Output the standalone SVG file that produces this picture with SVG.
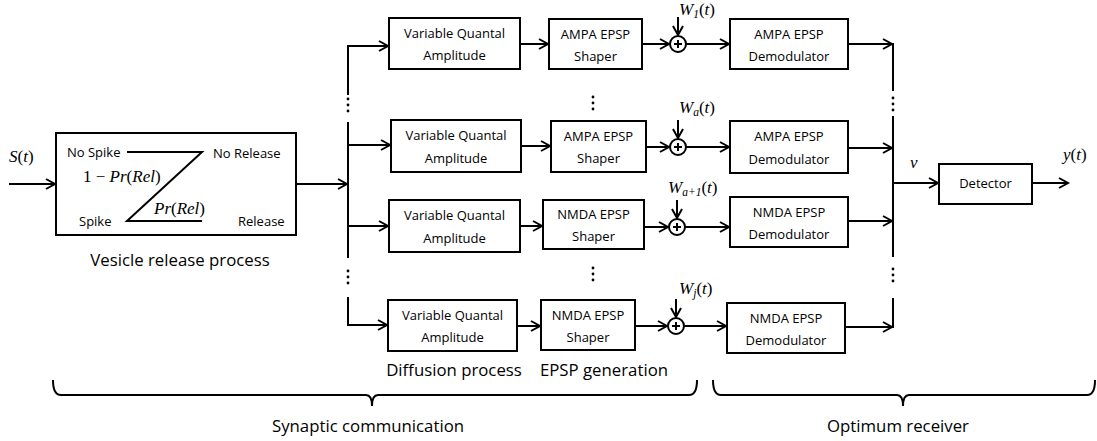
<svg xmlns="http://www.w3.org/2000/svg" width="1097" height="441" viewBox="0 0 1097 441">
  <style>
    .box { fill: #fff; stroke: #000; stroke-width: 2; }
    .ln { fill: none; stroke: #000; stroke-width: 2; }
    .arr { fill: none; stroke: #000; stroke-width: 2; marker-end: url(#head); }
    .t { font-family: "Open Sans", "Liberation Sans", sans-serif; font-size: 13px; fill: #000; text-anchor: middle; }
    .tl { font-family: "Open Sans", "Liberation Sans", sans-serif; font-size: 13px; fill: #000; }
    .cap { font-family: "Open Sans", "Liberation Sans", sans-serif; font-size: 16.8px; fill: #000; text-anchor: middle; }
    .m { font-family: "Liberation Serif", "DejaVu Serif", serif; font-size: 17px; fill: #000; }
    .i { font-style: italic; }
    .sub { font-size: 11.5px; font-style: italic; }
    .dot { fill: #000; }
  </style>
  <defs>
    <marker id="head" markerUnits="userSpaceOnUse" markerWidth="12" markerHeight="12" refX="9" refY="5" orient="auto" overflow="visible">
      <path d="M0,0 L9,5 L0,10" fill="none" stroke="#000" stroke-width="2"/>
    </marker>
    <g id="vdots">
      <circle cx="0" cy="0" r="1.4" class="dot"/>
      <circle cx="0" cy="6" r="1.4" class="dot"/>
      <circle cx="0" cy="12" r="1.4" class="dot"/>
    </g>
  </defs>

  <!-- connectors -->
  <g id="connectors">
    <!-- input and vesicle output -->
    <line x1="9" y1="184" x2="55" y2="184" class="arr"/>
    <line x1="296" y1="184" x2="347" y2="184" class="arr"/>
    <!-- left distribution bus -->
    <path d="M348,95 L348,46 L388,46" class="arr"/>
    <line x1="348" y1="122" x2="348" y2="258" class="ln"/>
    <line x1="348" y1="145" x2="390" y2="145" class="arr"/>
    <line x1="348" y1="226" x2="388" y2="226" class="arr"/>
    <path d="M348,297 L348,325 L387,325" class="arr"/>
    <use href="#vdots" x="348" y="99"/>
    <use href="#vdots" x="348" y="271"/>
    <!-- row 1 -->
    <line x1="520" y1="44" x2="548" y2="44" class="arr"/>
    <line x1="642" y1="44" x2="669" y2="44" class="arr"/>
    <line x1="678" y1="17" x2="678" y2="35" class="arr"/>
    <line x1="686" y1="44" x2="729" y2="44" class="arr"/>
    <line x1="848" y1="44" x2="892" y2="44" class="arr"/>
    <!-- row 2 -->
    <line x1="521" y1="146" x2="550" y2="146" class="arr"/>
    <line x1="646" y1="147" x2="669" y2="147" class="arr"/>
    <line x1="678" y1="120" x2="678" y2="138" class="arr"/>
    <line x1="686" y1="147" x2="729" y2="147" class="arr"/>
    <line x1="848" y1="148" x2="892" y2="148" class="arr"/>
    <!-- row 3 -->
    <line x1="520" y1="226" x2="542" y2="226" class="arr"/>
    <line x1="644" y1="227" x2="668" y2="227" class="arr"/>
    <line x1="677" y1="200" x2="677" y2="218" class="arr"/>
    <line x1="685" y1="227" x2="729" y2="227" class="arr"/>
    <line x1="848" y1="221" x2="892" y2="221" class="arr"/>
    <!-- row 4 -->
    <line x1="517" y1="326" x2="540" y2="326" class="arr"/>
    <line x1="635" y1="326" x2="667" y2="326" class="arr"/>
    <line x1="676" y1="299" x2="676" y2="317" class="arr"/>
    <line x1="684" y1="326" x2="726" y2="326" class="arr"/>
    <line x1="845" y1="327" x2="892" y2="327" class="arr"/>
    <!-- right combining bus -->
    <line x1="893" y1="43" x2="893" y2="91" class="ln"/>
    <line x1="893" y1="116" x2="893" y2="257" class="ln"/>
    <line x1="893" y1="298" x2="893" y2="328" class="ln"/>
    <use href="#vdots" x="893" y="98"/>
    <use href="#vdots" x="893" y="269"/>
    <line x1="893" y1="183" x2="938" y2="183" class="arr"/>
    <line x1="1032" y1="183" x2="1068" y2="183" class="arr"/>
    <!-- shaper column ellipses -->
    <use href="#vdots" x="593" y="97"/>
    <use href="#vdots" x="593" y="268"/>
  </g>

  <!-- input label -->
  <text x="9" y="162" class="m"><tspan class="i">S</tspan>(<tspan class="i">t</tspan>)</text>

  <!-- vesicle release process -->
  <g id="vesicle">
    <rect x="56" y="133" width="240" height="102" class="box"/>
    <path d="M127,152 L202,152 L127,221 L202,221" class="ln"/>
    <text x="67" y="157" class="tl">No Spike</text>
    <text x="213" y="158" class="tl">No Release</text>
    <text x="79" y="226" class="tl">Spike</text>
    <text x="238" y="226" class="tl">Release</text>
    <text x="83" y="182" class="m">1 − <tspan class="i">Pr</tspan>(<tspan class="i">Rel</tspan>)</text>
    <text x="154" y="214" class="m"><tspan class="i">Pr</tspan>(<tspan class="i">Rel</tspan>)</text>
    <text x="180" y="266" class="cap">Vesicle release process</text>
  </g>

  <!-- row 1: AMPA -->
  <g id="vqa1">
    <rect x="389" y="18" width="131" height="51" class="box"/>
    <text x="454.5" y="38" class="t">Variable Quantal</text>
    <text x="454.5" y="60" class="t">Amplitude</text>
  </g>
  <g id="shaper1">
    <rect x="549" y="19" width="93" height="50" class="box"/>
    <text x="595.5" y="39" class="t">AMPA EPSP</text>
    <text x="595.5" y="61" class="t">Shaper</text>
  </g>
  <g id="sum1">
    <circle cx="678" cy="44" r="8" class="box"/>
    <path d="M674,44 H682 M678,40 V48" class="ln" stroke-width="1.2"/>
    <text x="679" y="15" class="m"><tspan class="i">W</tspan><tspan class="sub" dy="3">1</tspan><tspan dy="-3">(</tspan><tspan class="i">t</tspan>)</text>
  </g>
  <g id="demod1">
    <rect x="730" y="19" width="118" height="50" class="box"/>
    <text x="789" y="39" class="t">AMPA EPSP</text>
    <text x="789" y="61" class="t">Demodulator</text>
  </g>

  <!-- row 2: AMPA -->
  <g id="vqa2">
    <rect x="391" y="120" width="130" height="52" class="box"/>
    <text x="456" y="140" class="t">Variable Quantal</text>
    <text x="456" y="163" class="t">Amplitude</text>
  </g>
  <g id="shaper2">
    <rect x="551" y="121" width="95" height="51" class="box"/>
    <text x="598.5" y="141" class="t">AMPA EPSP</text>
    <text x="598.5" y="163" class="t">Shaper</text>
  </g>
  <g id="sum2">
    <circle cx="678" cy="147" r="8" class="box"/>
    <path d="M674,147 H682 M678,143 V151" class="ln" stroke-width="1.2"/>
    <text x="679" y="113" class="m"><tspan class="i">W</tspan><tspan class="sub" dy="3">a</tspan><tspan dy="-3">(</tspan><tspan class="i">t</tspan>)</text>
  </g>
  <g id="demod2">
    <rect x="730" y="121" width="118" height="52" class="box"/>
    <text x="789" y="141" class="t">AMPA EPSP</text>
    <text x="789" y="164" class="t">Demodulator</text>
  </g>

  <!-- row 3: NMDA -->
  <g id="vqa3">
    <rect x="389" y="200" width="131" height="52" class="box"/>
    <text x="454.5" y="220" class="t">Variable Quantal</text>
    <text x="454.5" y="243" class="t">Amplitude</text>
  </g>
  <g id="shaper3">
    <rect x="543" y="200" width="101" height="49" class="box"/>
    <text x="593.5" y="219" class="t">NMDA EPSP</text>
    <text x="593.5" y="241" class="t">Shaper</text>
  </g>
  <g id="sum3">
    <circle cx="677" cy="227" r="8" class="box"/>
    <path d="M673,227 H681 M677,223 V231" class="ln" stroke-width="1.2"/>
    <text x="668" y="193" class="m"><tspan class="i">W</tspan><tspan class="sub" dy="3">a+1</tspan><tspan dy="-3">(</tspan><tspan class="i">t</tspan>)</text>
  </g>
  <g id="demod3">
    <rect x="730" y="197" width="118" height="50" class="box"/>
    <text x="789" y="217" class="t">NMDA EPSP</text>
    <text x="789" y="239" class="t">Demodulator</text>
  </g>

  <!-- row 4: NMDA -->
  <g id="vqa4">
    <rect x="388" y="300" width="129" height="51" class="box"/>
    <text x="452.5" y="320" class="t">Variable Quantal</text>
    <text x="452.5" y="342" class="t">Amplitude</text>
  </g>
  <g id="shaper4">
    <rect x="541" y="300" width="94" height="50" class="box"/>
    <text x="588" y="320" class="t">NMDA EPSP</text>
    <text x="588" y="342" class="t">Shaper</text>
  </g>
  <g id="sum4">
    <circle cx="676" cy="326" r="8" class="box"/>
    <path d="M672,326 H680 M676,322 V330" class="ln" stroke-width="1.2"/>
    <text x="679" y="294" class="m"><tspan class="i">W</tspan><tspan class="sub" dy="3">j</tspan><tspan dy="-3">(</tspan><tspan class="i">t</tspan>)</text>
  </g>
  <g id="demod4">
    <rect x="727" y="303" width="118" height="50" class="box"/>
    <text x="786" y="323" class="t">NMDA EPSP</text>
    <text x="786" y="345" class="t">Demodulator</text>
  </g>

  <!-- detector -->
  <g id="detector">
    <rect x="939" y="164" width="93" height="40" class="box"/>
    <text x="985.5" y="188" class="t">Detector</text>
  </g>
  <text x="910" y="168" class="m i">v</text>
  <text x="1063" y="160" class="m"><tspan class="i">y</tspan>(<tspan class="i">t</tspan>)</text>

  <!-- stage captions -->
  <text x="454" y="376" class="cap">Diffusion process</text>
  <text x="604" y="376" class="cap">EPSP generation</text>

  <!-- braces -->
  <g id="braces">
    <path d="M53,380 Q53,395 61,395 L366,395 Q372,395 372,406 Q372,395 378,395 L689,395 Q697,395 697,380" class="ln"/>
    <path d="M713,380 Q713,395 721,395 L897,395 Q903,395 903,406 Q903,395 909,395 L1087,395 Q1095,395 1095,380" class="ln"/>
  </g>
  <text x="368" y="432" class="cap">Synaptic communication</text>
  <text x="898" y="432" class="cap">Optimum receiver</text>
</svg>
